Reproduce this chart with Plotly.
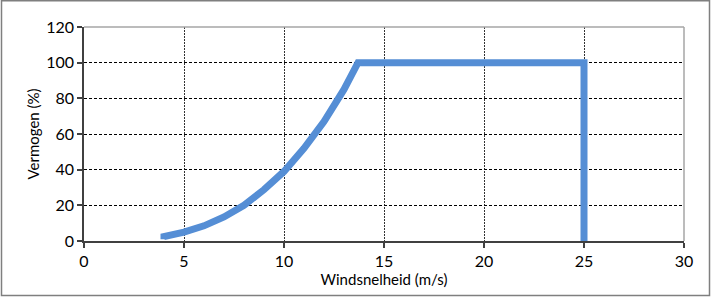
import plotly.graph_objects as go

wind = [4, 4, 5, 6, 7, 8, 9, 10, 11, 12, 13, 13.7, 25, 25]
power = [1, 2.5, 5, 8.5, 13.5, 20, 28.8, 39, 52, 67, 85, 100, 100, 0]

x_ticks = [0, 5, 10, 15, 20, 25, 30]
y_ticks = [0, 20, 40, 60, 80, 100, 120]

FONT = "Lato"
fig = go.Figure()
fig.add_trace(go.Scatter(x=wind, y=power, mode="lines",
                         line=dict(color="#558ED5", width=7),
                         hoverinfo="skip", showlegend=False))

# plot area top/right gray borders
fig.add_shape(type="line", xref="paper", yref="paper", x0=0, x1=1, y0=1, y1=1,
              line=dict(color="#a6a6a6", width=1.5))
fig.add_shape(type="line", xref="paper", yref="paper", x0=1, x1=1, y0=0, y1=1,
              line=dict(color="#a6a6a6", width=1.5))
# outer border
fig.add_shape(type="rect", xref="paper", yref="paper",
              x0=(1.5 - 84) / 600, x1=(709.5 - 84) / 600,
              y0=(241 - 295.5) / 214, y1=(241 - 0.8) / 214,
              line=dict(color="#7f7f7f", width=1.5), layer="above")

fig.update_layout(
    width=711, height=297,
    margin=dict(l=84, r=27, t=27, b=56),
    paper_bgcolor="white", plot_bgcolor="white",
    font=dict(family=FONT, size=16, color="#000000"),
    xaxis=dict(range=[0, 30], tickvals=x_ticks, ticktext=[str(v) for v in x_ticks],
               showgrid=True, gridcolor="#333333", gridwidth=1, griddash="2px,1px",
               showline=True, linecolor="#404040", linewidth=1.5,
               ticks="outside", ticklen=5, tickcolor="#404040", tickwidth=1.5,
               zeroline=False, tickfont=dict(size=16),
               title=dict(text="Windsnelheid (m/s)", standoff=4, font=dict(size=15))),
    yaxis=dict(range=[0, 120], tickvals=y_ticks, ticktext=[str(v) for v in y_ticks],
               showgrid=True, gridcolor="#000000", gridwidth=1, griddash="3px,2px",
               showline=True, linecolor="#404040", linewidth=1.5,
               ticks="outside", ticklen=5, tickcolor="#404040", tickwidth=1.5,
               zeroline=False, tickfont=dict(size=16),
               title=dict(text="Vermogen (%)", standoff=3, font=dict(size=15))),
)
fig.write_html("out.html")
